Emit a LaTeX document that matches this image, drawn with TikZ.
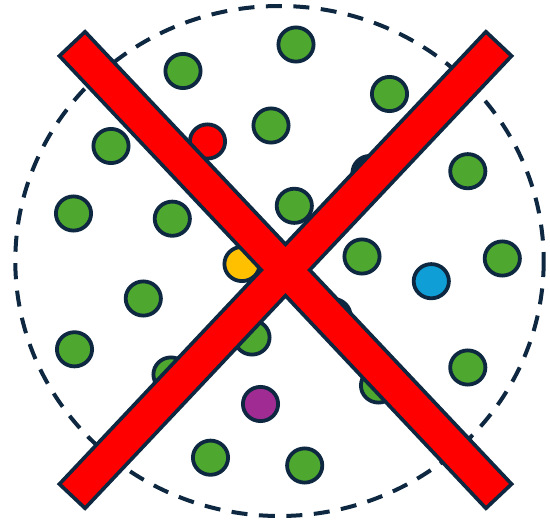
\documentclass[tikz,border=0pt]{standalone}
\usetikzlibrary{shapes.geometric}
\definecolor{outl}{HTML}{0E2841}
\definecolor{dgreen}{HTML}{4EA72E}
\definecolor{dblue}{HTML}{0F9ED5}
\definecolor{dpurple}{HTML}{A02B93}
\definecolor{dyellow}{HTML}{FFC000}
\definecolor{dred}{HTML}{FF0000}
\tikzset{
  dot/.style={ellipse, draw=outl, line width=3.8pt, minimum width=35.2pt, minimum height=34.2pt, inner sep=0pt},
  gdot/.style={dot, fill=dgreen},
  bound/.style={draw=outl, line width=4pt, dash pattern=on 16pt off 11.5pt},
  barline/.style={draw=outl, line width=7.6pt, line join=miter},
  barfill/.style={fill=dred}
}
\begin{document}
\begin{tikzpicture}[x=1pt,y=-1pt]
\useasboundingbox (0,0) rectangle (550,522);
\fill[white] (0,0) rectangle (550,522);
% dashed boundary
\draw[bound] (279.5,261) ellipse [x radius=264.2, y radius=255];
% dots
\node[gdot] (g1) at (183,71) {};
\node[gdot] (g2) at (296,44.5) {};
\node[gdot] (g3) at (389.5,94) {};
\node[gdot] (g4) at (271,125.5) {};
\node[gdot] (g5) at (111,146) {};
\node[gdot] (g6) at (467.8,171.2) {};
\node[gdot] (g7) at (73.5,213.5) {};
\node[gdot] (g8) at (172.3,218.7) {};
\node[gdot] (g9) at (294.3,205.8) {};
\node[gdot] (g10) at (362,256.5) {};
\node[gdot] (g11) at (502.3,258.5) {};
\node[gdot] (g12) at (143.3,298.5) {};
\node[gdot] (g13) at (252,337.5) {};
\node[gdot] (g14) at (74.5,349.3) {};
\node[gdot] (g15) at (171,374.5) {};
\node[gdot] (g16) at (467.8,367.5) {};
\node[gdot] (g17) at (378.5,385.5) {};
\node[gdot] (g18) at (210.5,457.7) {};
\node[gdot] (g19) at (304.7,465.5) {};
\node[dot, fill=dred] (r1) at (207.5,141.5) {};
\node[dot, fill=dyellow] (y1) at (242,264) {};
\node[dot, fill=dblue] (b1) at (431.3,281.2) {};
\node[dot, fill=dpurple] (p1) at (260.5,404) {};
\node[dot, fill=outl] (k1) at (370,173) {};
\node[dot, fill=outl] (k2) at (333,316) {};
% cross: thick outline underneath, red fill on top (merged outline)
\path[barline] (84.99,34.53) -- (508.78,484.00) -- (486.01,505.47) -- (62.22,56.00) -- cycle;
\path[barline] (486.01,34.53) -- (508.78,56.00) -- (84.99,505.47) -- (62.22,484.00) -- cycle;
\fill[dred] (84.99,34.53) -- (508.78,484.00) -- (486.01,505.47) -- (62.22,56.00) -- cycle;
\fill[dred] (486.01,34.53) -- (508.78,56.00) -- (84.99,505.47) -- (62.22,484.00) -- cycle;
\end{tikzpicture}
\end{document}
